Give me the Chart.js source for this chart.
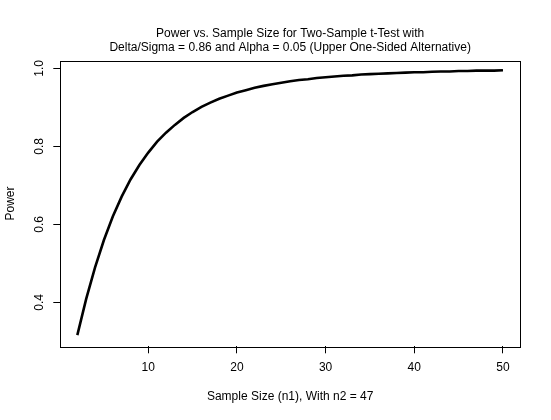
<!DOCTYPE html>
<html>
<head>
<meta charset="utf-8">
<script src="https://cdn.jsdelivr.net/npm/chart.js@4.4.1/dist/chart.umd.min.js"></script>
<style>
  html, body { margin: 0; padding: 0; background: #fff; }
  canvas { display: block; }
</style>
</head>
<body>
<canvas id="powerChart" width="551" height="420"></canvas>
<script>
// sample size n1 and power
const sampleSizes = [2, 3, 4, 5, 6, 7, 8, 9, 10, 11, 12, 13, 14, 15, 16, 17, 18, 19, 20, 21, 22, 23, 24, 25, 26,
  27, 28, 29, 30, 31, 32, 33, 34, 35, 36, 37, 38, 39, 40, 41, 42, 43, 44, 45, 46, 47, 48, 49, 50];
const powerValues = [0.316, 0.409, 0.490, 0.560, 0.620, 0.671, 0.715, 0.752, 0.784, 0.812, 0.835, 0.855, 0.873,
  0.888, 0.901, 0.912, 0.922, 0.930, 0.938, 0.944, 0.950, 0.955, 0.959, 0.963, 0.967, 0.970, 0.972, 0.975,
  0.977, 0.979, 0.981, 0.982, 0.984, 0.985, 0.986, 0.987, 0.988, 0.989, 0.990, 0.990, 0.991, 0.992, 0.992,
  0.993, 0.993, 0.994, 0.994, 0.994, 0.995];
const xTicks = [10, 20, 30, 40, 50];
const yTicks = [0.4, 0.6, 0.8, 1.0];
const titleLines = ['Power vs. Sample Size for Two-Sample t-Test with',
  'Delta/Sigma = 0.86 and Alpha = 0.05 (Upper One-Sided Alternative)'];
const xLabel = 'Sample Size (n1), With n2 = 47';
const yLabel = 'Power';

const fontFamily = '"Liberation Sans", Arial, Helvetica, sans-serif';
const baseFont = { family: fontFamily, size: 12, lineHeight: 1.2 };

// draws the closed box round the plot region, like R's box()
const boxPlugin = {
  id: 'plotBox',
  afterDraw(chart) {
    const { ctx, chartArea } = chart;
    ctx.save();
    ctx.strokeStyle = '#000';
    ctx.lineWidth = 1;
    ctx.strokeRect(Math.round(chartArea.left) + 0.5, Math.round(chartArea.top) + 0.5,
      Math.round(chartArea.right - chartArea.left), Math.round(chartArea.bottom - chartArea.top));
    ctx.restore();
  }
};

const points = sampleSizes.map((n, i) => ({ x: n, y: powerValues[i] }));

new Chart(document.getElementById('powerChart'), {
  type: 'line',
  data: {
    datasets: [{
      data: points,
      borderColor: '#000',
      borderWidth: 2.6,
      pointRadius: 0,
      tension: 0,
      fill: false
    }]
  },
  options: {
    responsive: false,
    animation: false,
    devicePixelRatio: 1,
    layout: { padding: { left: 0, right: 31, top: 0, bottom: 0 } },
    plugins: {
      legend: { display: false },
      tooltip: { enabled: false },
      title: {
        display: true,
        fullSize: false,
        text: titleLines,
        color: '#000',
        font: { family: fontFamily, size: 12, weight: 'normal', lineHeight: 1.2 },
        padding: { top: 26.5, bottom: 5.4 }
      }
    },
    scales: {
      x: {
        type: 'linear',
        min: 0.08,
        max: 51.92,
        afterBuildTicks: (scale) => { scale.ticks = xTicks.map(v => ({ value: v })); },
        afterFit: (scale) => { scale.height = 73.7; },
        grid: { display: true, drawOnChartArea: false, drawTicks: true, tickLength: 7, color: '#000' },
        border: { display: false },
        ticks: { color: '#000', font: baseFont, padding: 7.5, maxRotation: 0, autoSkip: false },
        title: { display: true, text: xLabel, color: '#000', font: baseFont, padding: { top: 0, bottom: 15.8 } }
      },
      y: {
        type: 'linear',
        min: 0.2875,
        max: 1.0195,
        afterBuildTicks: (scale) => { scale.ticks = yTicks.map(v => ({ value: v })); },
        afterFit: (scale) => { scale.width = 60.3; },
        grid: { display: true, drawOnChartArea: false, drawTicks: true, tickLength: 7, color: '#000' },
        border: { display: false },
        ticks: {
          color: '#000', font: baseFont, padding: 5.5, minRotation: 90, maxRotation: 90,
          crossAlign: 'center', autoSkip: false,
          callback: (v) => v.toFixed(1)
        },
        title: { display: true, text: yLabel, color: '#000', font: baseFont, padding: { top: 3.8, bottom: 0 } }
      }
    }
  },
  plugins: [boxPlugin]
});
</script>
</body>
</html>
